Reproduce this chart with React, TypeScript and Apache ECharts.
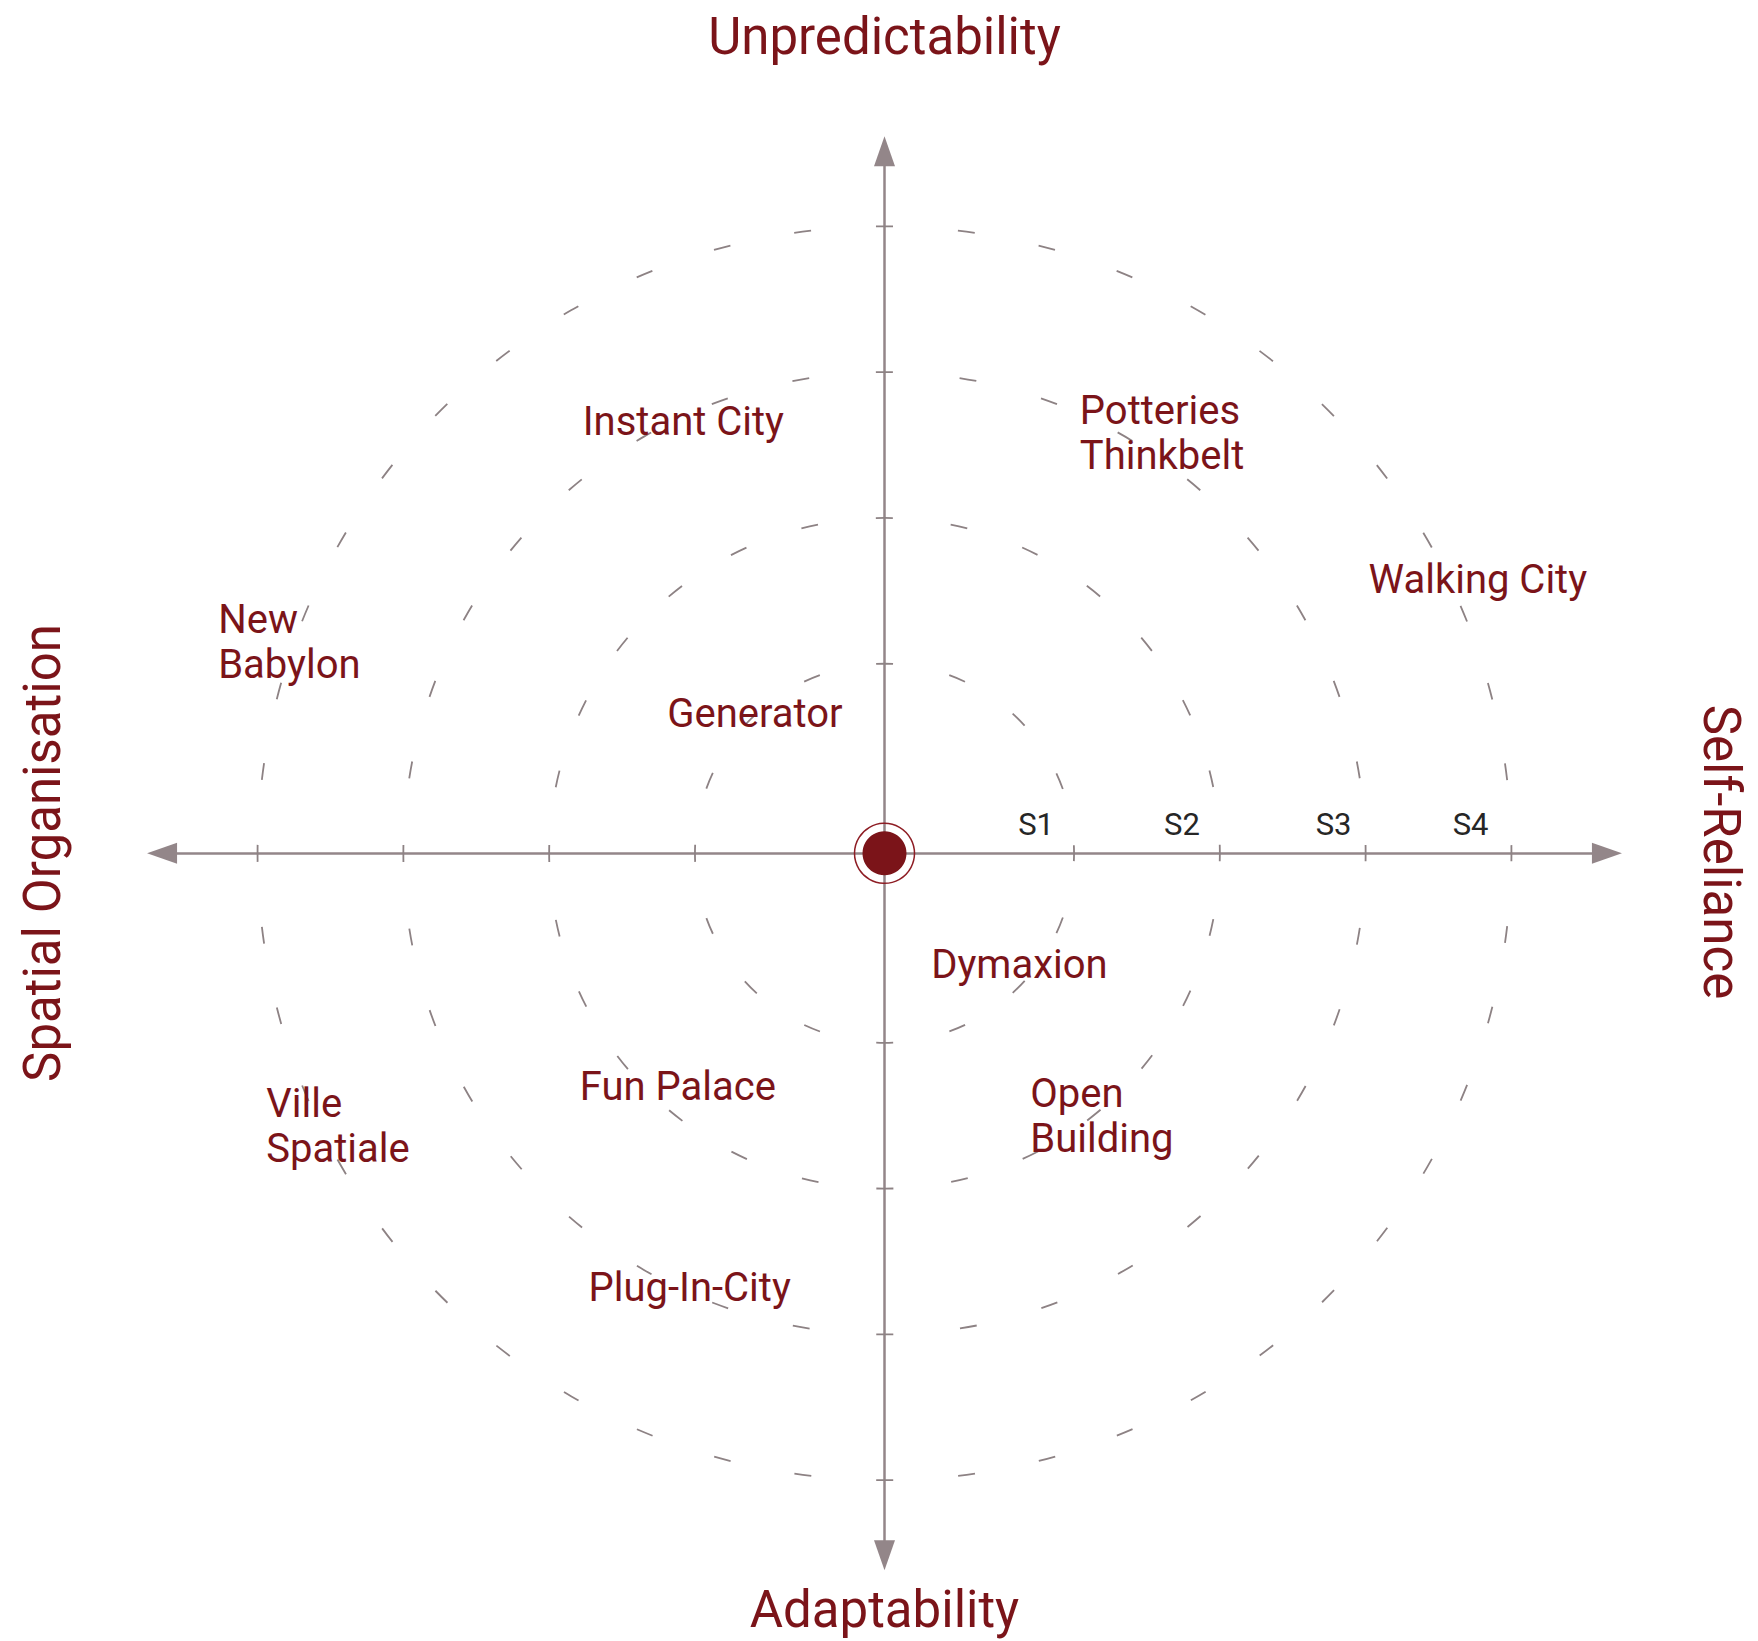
import React, { useEffect, useRef } from "react";
import * as echarts from "echarts";

// ---- data ----
const projectNames = [
  "Instant City",
  "Potteries\nThinkbelt",
  "Walking City",
  "New\nBabylon",
  "Generator",
  "Dymaxion",
  "Fun Palace",
  "Open\nBuilding",
  "Ville\nSpatiale",
  "Plug-In-City",
];
const projectX = [-2.07, 1.34, 3.32, -4.57, -1.49, 0.32, -2.09, 1.0, -4.24, -2.03];
const projectY = [2.96, 2.88, 1.88, 1.45, 0.96, -0.76, -1.6, -1.8, -1.87, -2.98];

const scaleLabels = ["S1", "S2", "S3", "S4"];
const scaleLabelX = [1.04, 2.04, 3.08, 4.02];
const scaleLabelY = 0.195;

const ringRadii = [1.3, 2.3, 3.3, 4.3];
const ringDashCounts = [16, 28, 36, 48];

const axisTitleTop = "Unpredictability";
const axisTitleBottom = "Adaptability";
const axisTitleLeft = "Spatial Organisation";
const axisTitleRight = "Self-Reliance";

const xExtent = 4.955;
const yExtent = 4.815;

// ---- layout / style ----
const W = 1758;
const H = 1641;
const CX = 884.5;
const CY = 853.3;
const UNIT = 145.8;
const RED = "#7b1419";
const AXIS = "#938689";
const DASH_COLOR = "#8d8284";
const DASH_LEN = 17;
const FONT = "Roboto";
const TITLE_SIZE = 51;

export default function App() {
  const ref = useRef<HTMLDivElement>(null);

  useEffect(() => {
    if (!ref.current) return;
    const chart = echarts.init(ref.current, undefined, { renderer: "svg" });

    const gridLeft = CX - xExtent * UNIT;
    const gridTop = CY - yExtent * UNIT;

    const titleStyle = (text: string) => ({
      text,
      fill: RED,
      font: `${TITLE_SIZE}px ${FONT}`,
      textAlign: "center",
      textVerticalAlign: "middle",
    });

    const axisCommon = {
      type: "value",
      axisTick: { show: false },
      axisLabel: { show: false },
      splitLine: { show: false },
    };
    const axisLine = {
      show: true,
      onZero: true,
      symbol: ["triangle", "triangle"],
      symbolSize: [21, 30],
      lineStyle: { color: AXIS, width: 2.5 },
    };

    const option: any = {
      animation: false,
      backgroundColor: "#ffffff",
      grid: {
        left: gridLeft,
        top: gridTop,
        width: 2 * xExtent * UNIT,
        height: 2 * yExtent * UNIT,
        containLabel: false,
      },
      xAxis: { ...axisCommon, min: -xExtent, max: xExtent, axisLine },
      yAxis: { ...axisCommon, min: -yExtent, max: yExtent, axisLine },
      graphic: [
        { type: "text", x: CX, y: 36, silent: true, style: titleStyle(axisTitleTop) },
        { type: "text", x: CX, y: 1609, silent: true, style: titleStyle(axisTitleBottom) },
        { type: "text", x: 42.6, y: 853, rotation: Math.PI / 2, silent: true, style: titleStyle(axisTitleLeft) },
        { type: "text", x: 1721, y: 852, rotation: -Math.PI / 2, silent: true, style: titleStyle(axisTitleRight) },
      ],
      series: [
        {
          type: "custom",
          silent: true,
          z: 1,
          data: ringRadii.map((r, i) => [r, ringDashCounts[i]]),
          renderItem: (params: any, api: any) => {
            const r = api.value(0);
            const n = api.value(1);
            const c = api.coord([0, 0]);
            const e = api.coord([r, 0]);
            const rp = e[0] - c[0];
            const period = (2 * Math.PI * rp) / n;
            return {
              type: "circle",
              shape: { cx: c[0], cy: c[1], r: rp },
              style: {
                fill: "none",
                stroke: DASH_COLOR,
                lineWidth: 1.8,
                lineDash: [DASH_LEN, period - DASH_LEN],
                lineDashOffset: DASH_LEN / 2,
              },
            };
          },
        },
        {
          type: "scatter",
          silent: true,
          z: 3,
          symbol: "circle",
          symbolSize: 60,
          itemStyle: { color: "rgba(0,0,0,0)", borderColor: "#8e1d24", borderWidth: 1.5, opacity: 1 },
          data: [[0, 0]],
        },
        {
          type: "scatter",
          silent: true,
          z: 4,
          symbol: "circle",
          symbolSize: 44,
          itemStyle: { color: RED, opacity: 1 },
          data: [[0, 0]],
        },
        {
          type: "scatter",
          silent: true,
          z: 5,
          symbolSize: 0,
          itemStyle: { opacity: 1 },
          data: scaleLabelX.map((v, i) => ({ name: scaleLabels[i], value: [v, scaleLabelY] })),
          label: {
            show: true,
            position: "inside",
            formatter: "{b}",
            color: "#262626",
            fontFamily: FONT,
            fontSize: 31,
          },
        },
        {
          type: "scatter",
          silent: true,
          z: 5,
          symbolSize: 0,
          itemStyle: { opacity: 1 },
          data: projectNames.map((n, i) => ({ name: n, value: [projectX[i], projectY[i]] })),
          label: {
            show: true,
            position: "right",
            distance: 0,
            formatter: "{b}",
            color: RED,
            fontFamily: FONT,
            fontSize: 40,
            lineHeight: 45,
            align: "left",
          },
        },
      ],
    };

    chart.setOption(option);
    return () => chart.dispose();
  }, []);

  return (
    <div
      ref={ref}
      style={{ position: "absolute", left: 0, top: 0, width: W, height: H, background: "#fff" }}
    />
  );
}
